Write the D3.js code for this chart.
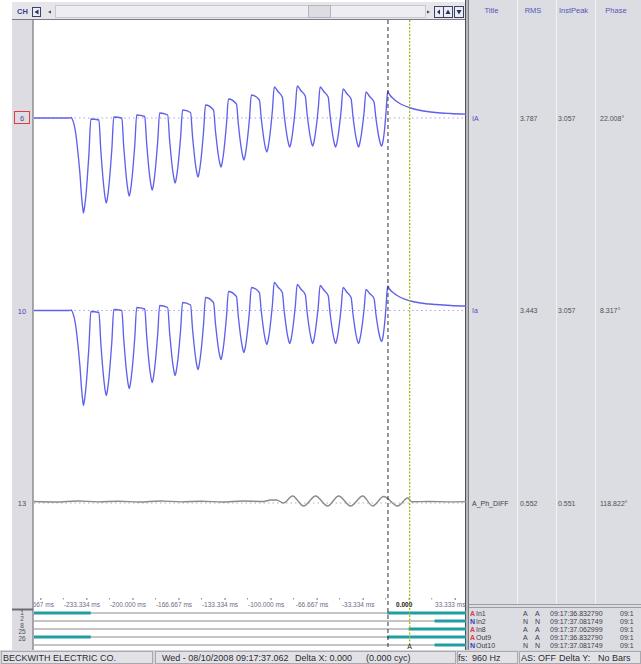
<!DOCTYPE html>
<html>
<head>
<meta charset="utf-8">
<script src="https://cdn.jsdelivr.net/npm/d3@7"></script>
<style>
  body { margin: 0; background: #fff; }
  svg { display: block; }
  text { font-family: "Liberation Sans", Arial, sans-serif; }
</style>
</head>
<body>
<div id="vis-container"></div>
<script>
// ---- data ----
var channelIds = ["6", "10", "13"];
var channelNames = ["IA", "Ia", "A_Ph_DIFF"];
var channelRms = ["3.787", "3.443", "0.552"];
var channelPeak = ["3.057", "3.057", "0.551"];
var channelPhase = ["22.008°", "8.317°", "118.822°"];

var tickValues = [-266.667, -233.334, -200, -166.667, -133.334, -100, -66.667, -33.334, 0, 33.333];
var tickLabels = ["-266.667 ms", "-233.334 ms", "-200.000 ms", "-166.667 ms", "-133.334 ms", "-100.000 ms", "-66.667 ms", "-33.334 ms", "0.000", "33.333 ms"];
var minorTicks = [-250, -216.667, -183.334, -150, -116.667, -83.334, -50, -16.667, 16.667];

// [time ms, current A]
var iaPoints = [
  [-272, 0], [-245.5, 0], [-244.3, 0.05], [-243.6, -0.1], [-241.0, -1.6], [-239.5, -3.4], [-238.0, -5.6], [-236.8, -7.9], [-236.0, -9.0], [-235.5, -9.5],
  [-234.5, -8.75], [-233.5, -7.45], [-232.5, -5.65], [-231.5, -3.6], [-230.1, -0.1], [-224.3, -0.2],
  [-222.9, -3.25], [-221.9, -5.1], [-220.9, -6.65], [-219.9, -7.85], [-218.9, -8.5],
  [-217.9, -7.8], [-216.9, -6.6], [-215.9, -4.95], [-214.9, -3.1], [-213.5, 0.1], [-207.7, 0.0],
  [-206.3, -2.9], [-205.3, -4.6], [-204.3, -6.1], [-203.3, -7.2], [-202.3, -7.8],
  [-201.3, -7.15], [-200.3, -6.0], [-199.3, -4.5], [-198.3, -2.7], [-196.9, 0.3], [-191.1, 0.15],
  [-189.7, -2.55], [-188.7, -4.2], [-187.7, -5.6], [-186.7, -6.6], [-185.7, -7.2],
  [-184.7, -6.6], [-183.7, -5.5], [-182.7, -4.05], [-181.7, -2.35], [-180.3, 0.5], [-174.5, 0.3],
  [-173.1, -2.2], [-172.1, -3.7], [-171.1, -5.0], [-170.1, -5.95], [-169.1, -6.5],
  [-168.1, -5.9], [-167.1, -4.9], [-166.1, -3.5], [-165.1, -1.9], [-163.7, 0.8], [-157.9, 0.55],
  [-156.5, -1.85], [-155.5, -3.25], [-154.5, -4.5], [-153.5, -5.4], [-152.5, -5.9],
  [-151.5, -5.3], [-150.5, -4.3], [-149.5, -2.95], [-148.5, -1.35], [-147.1, 1.3], [-141.3, 0.8],
  [-139.9, -1.3], [-138.9, -2.55], [-137.9, -3.65], [-136.9, -4.45], [-135.9, -4.9],
  [-134.9, -4.35], [-133.9, -3.4], [-132.9, -2.1], [-131.9, -0.6], [-130.5, 1.9], [-124.7, 1.4],
  [-123.3, -0.65], [-122.3, -1.9], [-121.3, -2.95], [-120.3, -3.75], [-119.3, -4.2],
  [-118.3, -3.7], [-117.3, -2.75], [-116.3, -1.55], [-115.3, -0.1], [-113.9, 2.3], [-108.1, 1.8],
  [-106.7, -0.1], [-105.7, -1.25], [-104.7, -2.25], [-103.7, -3.0], [-102.7, -3.4],
  [-101.7, -2.9], [-100.7, -1.95], [-99.7, -0.75], [-98.7, 0.7], [-97.3, 3.1], [-94.7, 2.65], [-91.5, 2.1],
  [-90.1, 0.25], [-89.1, -0.85], [-88.1, -1.8], [-87.1, -2.5], [-86.1, -2.9],
  [-85.1, -2.4], [-84.1, -1.55], [-83.1, -0.4], [-82.1, 0.95], [-80.7, 3.2], [-78.1, 2.75], [-74.9, 2.2],
  [-73.5, 0.35], [-72.5, -0.75], [-71.5, -1.7], [-70.5, -2.4], [-69.5, -2.8],
  [-68.5, -2.35], [-67.5, -1.5], [-66.5, -0.4], [-65.5, 0.9], [-64.1, 3.1], [-61.5, 2.65], [-58.3, 2.1],
  [-56.9, 0.25], [-55.9, -0.85], [-54.9, -1.8], [-53.9, -2.5], [-52.9, -2.9],
  [-51.9, -2.45], [-50.9, -1.6], [-49.9, -0.5], [-48.9, 0.75], [-47.5, 2.9], [-44.9, 2.45], [-41.7, 1.9],
  [-40.3, 0.1], [-39.3, -0.95], [-38.3, -1.85], [-37.3, -2.5], [-36.3, -2.9],
  [-35.3, -2.45], [-34.3, -1.7], [-33.3, -0.65], [-32.3, 0.55], [-30.9, 2.6], [-28.3, 2.15], [-25.1, 1.6],
  [-23.7, -0.05], [-22.7, -1.0], [-21.7, -1.85], [-20.7, -2.45], [-19.7, -2.8],
  [-18.7, -2.4], [-17.5, -1.2], [-16.4, 0.6], [-15.5, 2.3], [-15.1, 2.65], [-14.5, 2.5], [-13.6, 2.3], [-10.9, 1.9],
  [-5.8, 1.4], [1.4, 1.0], [8.7, 0.75], [19.6, 0.55], [30.4, 0.45], [41.5, 0.38]
];

var iaSmallPoints = [
  [-272, 0], [-245.5, 0], [-244.3, 0.05], [-243.6, -0.1], [-241.0, -1.6], [-239.5, -3.4], [-238.0, -5.6], [-236.8, -7.9], [-236.0, -9.0], [-235.5, -9.5],
  [-234.5, -8.75], [-233.5, -7.45], [-232.5, -5.65], [-231.5, -3.6], [-230.1, -0.1], [-224.3, -0.2],
  [-222.9, -3.25], [-221.9, -5.1], [-220.9, -6.65], [-219.9, -7.85], [-218.9, -8.5],
  [-217.9, -7.8], [-216.9, -6.6], [-215.9, -4.95], [-214.9, -3.1], [-213.5, 0.1], [-207.7, 0.0],
  [-206.3, -2.9], [-205.3, -4.6], [-204.3, -6.1], [-203.3, -7.2], [-202.3, -7.8],
  [-201.3, -7.15], [-200.3, -6.0], [-199.3, -4.5], [-198.3, -2.7], [-196.9, 0.3], [-191.1, 0.15],
  [-189.7, -2.55], [-188.7, -4.2], [-187.7, -5.6], [-186.7, -6.6], [-185.7, -7.2],
  [-184.7, -6.6], [-183.7, -5.5], [-182.7, -4.05], [-181.7, -2.35], [-180.3, 0.5], [-174.5, 0.3],
  [-173.1, -2.2], [-172.1, -3.7], [-171.1, -5.0], [-170.1, -5.95], [-169.1, -6.5],
  [-168.1, -5.9], [-167.1, -4.9], [-166.1, -3.5], [-165.1, -1.9], [-163.7, 0.8], [-157.9, 0.55],
  [-156.5, -1.85], [-155.5, -3.25], [-154.5, -4.5], [-153.5, -5.4], [-152.5, -5.9],
  [-151.5, -5.3], [-150.5, -4.3], [-149.5, -2.95], [-148.5, -1.35], [-147.1, 1.3], [-141.3, 0.8],
  [-139.9, -1.3], [-138.9, -2.55], [-137.9, -3.65], [-136.9, -4.45], [-135.9, -4.9],
  [-134.9, -4.35], [-133.9, -3.4], [-132.9, -2.1], [-131.9, -0.6], [-130.5, 1.9], [-124.7, 1.4],
  [-123.3, -0.65], [-122.3, -1.9], [-121.3, -2.95], [-120.3, -3.75], [-119.3, -4.2],
  [-118.3, -3.7], [-117.3, -2.75], [-116.3, -1.55], [-115.3, -0.1], [-113.9, 2.3], [-108.1, 1.8],
  [-106.7, -0.1], [-105.7, -1.25], [-104.7, -2.25], [-103.7, -3.0], [-102.7, -3.4],
  [-101.7, -2.9], [-100.7, -2.05], [-99.7, -0.85], [-98.7, 0.5], [-97.3, 2.8], [-94.7, 2.35], [-91.5, 1.8],
  [-90.1, -0.1], [-89.1, -1.2], [-88.1, -2.2], [-87.1, -2.9], [-86.1, -3.3],
  [-85.1, -2.85], [-84.1, -2.0], [-83.1, -0.9], [-82.1, 0.4], [-80.7, 2.6], [-78.1, 2.15], [-74.9, 1.6],
  [-73.5, -0.2], [-72.5, -1.3], [-71.5, -2.2], [-70.5, -2.9], [-69.5, -3.3],
  [-68.5, -2.85], [-67.5, -2.0], [-66.5, -0.9], [-65.5, 0.35], [-64.1, 2.5], [-61.5, 2.05], [-58.3, 1.5],
  [-56.9, -0.3], [-55.9, -1.35], [-54.9, -2.25], [-53.9, -2.9], [-52.9, -3.3],
  [-51.9, -2.85], [-50.9, -2.05], [-49.9, -1.0], [-48.9, 0.25], [-47.5, 2.3], [-44.9, 1.85], [-41.7, 1.3],
  [-40.3, -0.4], [-39.3, -1.4], [-38.3, -2.3], [-37.3, -2.95], [-36.3, -3.3],
  [-35.3, -2.85], [-34.3, -2.1], [-33.3, -1.1], [-32.3, 0.1], [-30.9, 2.1], [-28.3, 1.7], [-25.1, 1.2],
  [-23.7, -0.4], [-22.7, -1.35], [-21.7, -2.15], [-20.7, -2.75], [-19.7, -3.1],
  [-18.7, -2.7], [-17.5, -1.4], [-16.4, 0.4], [-15.5, 2.15], [-15.1, 2.45], [-14.5, 2.3], [-13.6, 2.1], [-10.9, 1.75],
  [-5.8, 1.3], [1.4, 0.95], [8.7, 0.75], [19.6, 0.6], [30.4, 0.5], [41.5, 0.45]
];

var diffPoints = [
  [-272, 0.15], [-255, 0.1], [-240, 0.2], [-225, 0.12], [-210, 0.18], [-195, 0.1], [-180, 0.2],
  [-165, 0.12], [-150, 0.18], [-135, 0.1], [-120, 0.2], [-105, 0.15], [-100, 0.3], [-95.7, 0.3],
  [-90.6, 0.0], [-84.1, 0.7], [-76.1, -0.3], [-67.4, 0.7], [-58.7, -0.3], [-50.7, 0.7],
  [-42.0, -0.3], [-33.3, 0.7], [-26.1, -0.3], [-18.1, 0.65], [-8.0, -0.3], [-0.7, 0.5],
  [2.2, 0.13], [15, 0.15], [28, 0.12], [41.5, 0.14]
];

var digitalIds = ["1", "2", "8", "25", "26"];
var digitalNames = ["In1", "In2", "In8", "Out9", "Out10"];
var digitalState = ["A", "N", "A", "A", "N"];
var digitalTimes = ["09:17:36.832790", "09:17:37.081749", "09:17:37.062999", "09:17:36.832790", "09:17:37.081749"];
var digitalOn = [
  [[-272, -230.2], [-15.5, 41.5]],
  [[18.7, 41.5]],
  [[0, 41.5]],
  [[-272, -230.2], [-15.5, 41.5]],
  [[18.7, 41.5]]
];

var cursorBlack = -15.0;
var cursorYellow = 0;

// ---- layout ----
var width = 641, height = 664;
var plotLeft = 34, plotRight = 466, plotTop = 20;

var svg = d3.select("#vis-container").append("svg").attr("width", width).attr("height", height);
svg.append("rect").attr("width", width).attr("height", height).attr("fill", "#fff");

var defs = svg.append("defs");
defs.append("clipPath").attr("id", "clip")
  .append("rect").attr("x", plotLeft).attr("y", plotTop).attr("width", plotRight - plotLeft).attr("height", 630 - plotTop);
defs.append("clipPath").attr("id", "clipAxis")
  .append("rect").attr("x", plotLeft).attr("y", 596).attr("width", plotRight - plotLeft).attr("height", 14);

var x = d3.scaleLinear().domain([-272, 41.5]).range([33, 466]);
var baseY = d3.scalePoint().domain(channelIds).range([118, 503]);
var yScales = channelIds.map(function (id) {
  var b = baseY(id);
  return d3.scaleLinear().domain([-10, 10]).range([b + 100, b - 100]);
});
var rowY = d3.scalePoint().domain(digitalNames).range([613, 645]);

// toolbar
svg.append("rect").attr("x", 12).attr("y", 2).attr("width", 454).attr("height", 18).attr("fill", "#e6e6ea");
svg.append("line").attr("x1", 12).attr("x2", 466).attr("y1", 19.5).attr("y2", 19.5).attr("stroke", "#7c7c84");
svg.append("text").attr("x", 17).attr("y", 14).attr("font-size", 7.5).attr("font-weight", "bold").attr("fill", "#3c3c90").text("CH");
svg.append("rect").attr("x", 32.5).attr("y", 7.5).attr("width", 8).attr("height", 9).attr("fill", "#ececf4").attr("stroke", "#404060");
svg.append("path").attr("d", "M34.5,12 L38.5,9.5 L38.5,14.5 Z").attr("fill", "#203070");
svg.append("path").attr("d", "M48,12 L51,10.5 L51,13.5 Z").attr("fill", "#404060");
svg.append("rect").attr("x", 55.5).attr("y", 5.5).attr("width", 370).attr("height", 12).attr("fill", "#eeeef2").attr("stroke", "#c8c8d0");
svg.append("rect").attr("x", 308.5).attr("y", 5.5).attr("width", 22).attr("height", 12).attr("fill", "#dcdce2").attr("stroke", "#b4b4bc");
svg.append("path").attr("d", "M427,10.5 L430,12 L427,13.5 Z").attr("fill", "#404060");
[[434.5, "M437,12 L440,9.5 L440,14.5 Z"], [443.5, "M445.5,14 L448,9.5 L450.5,14 Z"], [454.5, "M456.5,10 L459,14.5 L461.5,10 Z"]].forEach(function (b) {
  svg.append("rect").attr("x", b[0]).attr("y", 6.5).attr("width", 9).attr("height", 11).attr("fill", "#ececf4").attr("stroke", "#404060");
  svg.append("path").attr("d", b[1]).attr("fill", "#203070");
});

// left gutter
svg.append("rect").attr("x", 12).attr("y", 20).attr("width", 21).attr("height", 630).attr("fill", "#dcdce2");
svg.append("line").attr("x1", 33).attr("x2", 33).attr("y1", 20).attr("y2", 650).attr("stroke", "#8c8c94").attr("stroke-width", 1.5);
svg.append("rect").attr("x", 12).attr("y", 608.5).attr("width", 21).attr("height", 2).attr("fill", "#6c6c74");

// right panel
svg.append("rect").attr("x", 467).attr("y", 0).attr("width", 174).attr("height", 650).attr("fill", "#dcdce3");
svg.append("rect").attr("x", 465).attr("y", 0).attr("width", 4).attr("height", 650).attr("fill", "#b8b8bc");
svg.append("line").attr("x1", 465.5).attr("x2", 465.5).attr("y1", 0).attr("y2", 650).attr("stroke", "#505058");
svg.append("line").attr("x1", 468.5).attr("x2", 468.5).attr("y1", 0).attr("y2", 650).attr("stroke", "#7c7c84");
[517, 556, 595].forEach(function (cx) {
  svg.append("line").attr("x1", cx + 0.5).attr("x2", cx + 0.5).attr("y1", 0).attr("y2", 604).attr("stroke", "#f2f2f6");
});
svg.append("line").attr("x1", 469).attr("x2", 641).attr("y1", 604.5).attr("y2", 604.5).attr("stroke", "#9c9ca4");
svg.append("line").attr("x1", 469).attr("x2", 641).attr("y1", 607.5).attr("y2", 607.5).attr("stroke", "#9c9ca4");

var headers = [["Title", 491.5], ["RMS", 533], ["InstPeak", 573.5], ["Phase", 616]];
headers.forEach(function (h) {
  svg.append("text").attr("x", h[1]).attr("y", 13).attr("text-anchor", "middle").attr("font-size", 7.5)
    .attr("fill", "#5656b4").text(h[0]);
});

// channel table rows and gutter ids
channelIds.forEach(function (id, i) {
  var yb = baseY(id) + 2.5;
  svg.append("text").attr("x", 472).attr("y", yb).attr("font-size", 7).attr("fill", i < 2 ? "#4c4cc8" : "#404048").text(channelNames[i]);
  svg.append("text").attr("x", 520).attr("y", yb).attr("font-size", 7).attr("fill", "#505058").text(channelRms[i]);
  svg.append("text").attr("x", 558).attr("y", yb).attr("font-size", 7).attr("fill", "#505058").text(channelPeak[i]);
  svg.append("text").attr("x", 600).attr("y", yb).attr("font-size", 7).attr("fill", "#505058").text(channelPhase[i]);
  svg.append("text").attr("x", 22).attr("y", yb + 0.5).attr("text-anchor", "middle").attr("font-size", 7.5)
    .attr("fill", i < 2 ? "#4848b0" : "#505058").text(id);
});
svg.append("rect").attr("x", 14.5).attr("y", baseY("6") - 6.5).attr("width", 15).attr("height", 12)
  .attr("fill", "none").attr("stroke", "#e03c3c");

// traces
var plotG = svg.append("g").attr("clip-path", "url(#clip)");
var traceData = [iaPoints, iaSmallPoints, diffPoints];
var traceColor = ["#6060ec", "#6060ec", "#8a8a8a"];
var dotColor = ["#a6a6f4", "#a6a6f4", "#b0b0b0"];

traceData.forEach(function (pts, i) {
  var ys = yScales[i];
  plotG.append("line").attr("x1", plotLeft).attr("x2", plotRight).attr("y1", ys(0)).attr("y2", ys(0))
    .attr("stroke", dotColor[i]).attr("stroke-dasharray", "1.5,3");
  var line = d3.line()
    .x(function (d) { return x(d[0]); })
    .y(function (d) { return ys(d[1]); })
    .curve(d3.curveMonotoneX);
  plotG.append("path").datum(pts).attr("d", line).attr("fill", "none")
    .attr("stroke", traceColor[i]).attr("stroke-width", 1.35).attr("stroke-linejoin", "round");
});

// time axis
var axisWrap = svg.append("g").attr("clip-path", "url(#clipAxis)");
var axisG = axisWrap.append("g").attr("transform", "translate(0,598)");
axisG.call(d3.axisBottom(x).tickValues(tickValues).tickSize(2).tickPadding(2)
  .tickFormat(function (d, i) { return tickLabels[i]; }));
axisG.select(".domain").remove();
axisG.selectAll(".tick line").attr("stroke", "#707080");
axisG.selectAll(".tick text").attr("font-size", 6.5).attr("fill", "#6c6c84").attr("dx", -5)
  .attr("font-family", "Liberation Sans, Arial, sans-serif");
axisG.selectAll(".tick text").filter(function (d) { return d === 0; })
  .attr("font-weight", "bold").attr("fill", "#202020");
axisG.selectAll(".minor").data(minorTicks).enter().append("line").attr("class", "minor")
  .attr("x1", function (d) { return x(d); }).attr("x2", function (d) { return x(d); })
  .attr("y1", 0).attr("y2", 1.5).attr("stroke", "#9090a0");

// digital channels
var digG = svg.append("g");
digitalNames.forEach(function (name, i) {
  var yy = rowY(name);
  digG.append("line").attr("x1", plotLeft).attr("x2", plotRight).attr("y1", yy).attr("y2", yy)
    .attr("stroke", "#8a8a8a").attr("stroke-width", 1);
  digitalOn[i].forEach(function (seg) {
    digG.append("line").attr("x1", Math.max(plotLeft, x(seg[0]))).attr("x2", Math.min(plotRight, x(seg[1])))
      .attr("y1", yy).attr("y2", yy).attr("stroke", "#1f9ea4").attr("stroke-width", 3);
  });
  svg.append("text").attr("x", 22).attr("y", 614.5 + i * 6.6).attr("text-anchor", "middle")
    .attr("font-size", 6.5).attr("fill", "#505058").text(digitalIds[i]);
  var ty = yy + 2.5;
  svg.append("text").attr("x", 470).attr("y", ty).attr("font-size", 7).attr("font-weight", "bold")
    .attr("fill", digitalState[i] === "A" ? "#e03838" : "#3040c0").text(digitalState[i]);
  svg.append("text").attr("x", 476).attr("y", ty).attr("font-size", 7).attr("fill", "#404048").text(name);
  svg.append("text").attr("x", 523).attr("y", ty).attr("font-size", 7).attr("fill", "#404048").text(digitalState[i]);
  svg.append("text").attr("x", 535).attr("y", ty).attr("font-size", 7).attr("fill", "#404048").text(digitalState[i]);
  svg.append("text").attr("x", 550).attr("y", ty).attr("font-size", 7).attr("fill", "#404048").text(digitalTimes[i]);
  svg.append("text").attr("x", 620).attr("y", ty).attr("font-size", 7).attr("fill", "#404048").text(digitalTimes[i].slice(0, 4));
});

// cursors
svg.append("line").attr("x1", x(cursorBlack)).attr("x2", x(cursorBlack)).attr("y1", plotTop).attr("y2", 650)
  .attr("stroke", "#303030").attr("stroke-dasharray", "4,3");
svg.append("line").attr("x1", x(cursorYellow) + 1).attr("x2", x(cursorYellow) + 1).attr("y1", plotTop).attr("y2", 644)
  .attr("stroke", "#a2b400").attr("stroke-width", 1.2).attr("stroke-dasharray", "2,1.5");
svg.append("text").attr("x", x(cursorYellow) + 1).attr("y", 649).attr("text-anchor", "middle")
  .attr("font-size", 7).attr("fill", "#202020").text("A");

// status bar
svg.append("rect").attr("x", 0).attr("y", 650).attr("width", width).attr("height", 14).attr("fill", "#d6d6da");
[[1, 151], [155, 300], [457, 60], [519, 121]].forEach(function (p) {
  svg.append("rect").attr("x", p[0] + 0.5).attr("y", 651.5).attr("width", p[1]).attr("height", 12)
    .attr("fill", "#e2e2e6").attr("stroke", "#a8a8b0");
});
var statusTexts = [
  ["BECKWITH ELECTRIC CO.", 3], ["Wed - 08/10/2008 09:17:37.062", 162], ["Delta X: 0.000", 295], ["(0.000 cyc)", 366],
  ["fs:", 458], ["960 Hz", 472], ["AS: OFF", 521], ["Delta Y:", 559], ["No Bars", 598]
];
statusTexts.forEach(function (s) {
  svg.append("text").attr("x", s[1]).attr("y", 661).attr("font-size", 9).attr("fill", "#2c2c30").text(s[0]);
});
</script>
</body>
</html>
